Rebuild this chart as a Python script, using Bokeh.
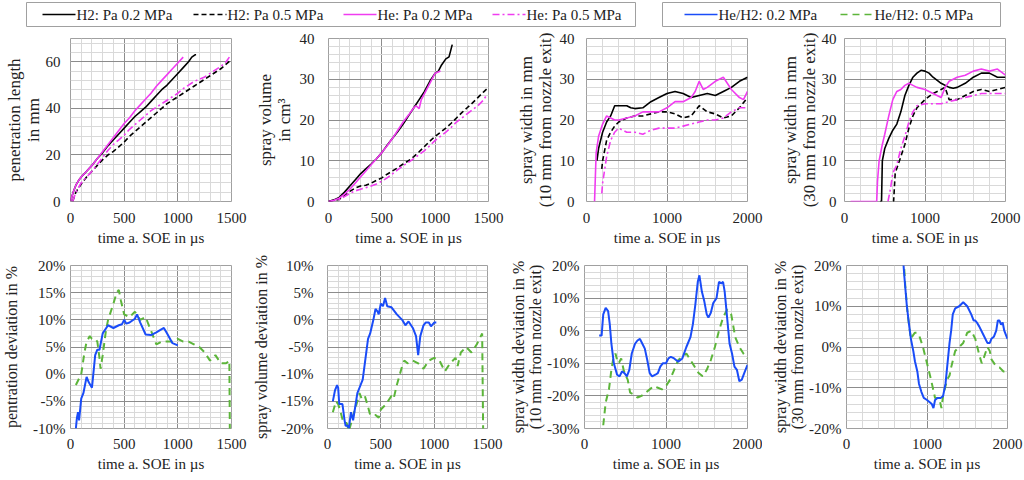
from bokeh.plotting import figure
from bokeh.layouts import column, row
from bokeh.models import Range1d, SingleIntervalTicker, PrintfTickFormatter
from bokeh.core.properties import value
from bokeh.embed import file_html
from bokeh.resources import INLINE

FONT = "'Liberation Serif', 'Times New Roman', serif"

# ---------------- data (time in µs, value) ----------------
# penetration length in mm
pen_h2_02 = [(0,0),(25,4),(50,7),(75,9),(100,10.5),(150,13),(200,15.5),(250,18.5),(300,21),(350,24),(400,26.5),(450,29),(500,31.5),(550,34),(600,36.5),(650,38.5),(700,40.5),(750,43),(800,45.5),(850,48),(900,50),(950,52.5),(1000,55),(1050,57.5),(1100,60),(1130,62),(1160,63),(1170,63)]
pen_h2_05 = [(20,0),(50,4),(100,7.5),(150,10.5),(200,13),(250,15.5),(300,18),(350,20),(400,21.5),(450,23.5),(500,25.5),(550,28),(600,30),(650,32),(700,34),(750,36),(800,38),(850,40),(900,42),(950,43.5),(1000,45),(1050,46.5),(1100,48),(1150,49.5),(1200,51),(1250,52.5),(1300,54),(1350,55.5),(1400,57),(1450,59),(1500,61)]
pen_he_02 = [(0,0),(25,4),(50,7),(75,9),(100,10.5),(150,13),(200,15.5),(250,18.5),(300,21.5),(350,24.5),(400,27.5),(450,30.5),(500,33.5),(550,36),(600,39),(650,41.5),(700,44),(750,46.5),(800,49.5),(850,52),(900,54.5),(950,57),(1000,59.5),(1050,62)]
pen_he_05 = [(20,0),(50,4),(100,8),(150,10.5),(200,13),(250,16),(300,19),(350,22),(400,24.5),(450,26.5),(500,28.5),(550,31),(600,33),(650,35),(700,37),(750,39),(800,40.5),(850,42),(900,43.5),(950,45),(1000,46.5),(1050,48.5),(1100,50),(1150,51.5),(1200,52.5),(1250,53.5),(1300,55),(1350,56.5),(1400,58),(1450,60),(1480,62)]

# spray volume in cm3
vol_h2_02 = [(0,0),(50,0.4),(100,1),(150,2.3),(200,3.8),(250,5.3),(300,6.8),(350,8),(400,9.2),(450,10.5),(500,12),(550,13.8),(600,15.5),(650,17.2),(700,19),(750,21),(800,23),(850,25),(900,27),(950,29.5),(1000,31.5),(1030,32),(1060,33.5),(1100,35),(1130,35.5),(1160,38.5)]
vol_h2_05 = [(0,0),(100,0.5),(150,1.5),(200,2.5),(250,3.3),(300,3.8),(350,4),(400,4.5),(450,5.2),(500,5.8),(550,6.7),(600,7.5),(650,8.3),(700,9.2),(750,10),(800,11),(850,12.2),(900,13.5),(950,14.8),(1000,16),(1050,17),(1100,18),(1150,19.2),(1200,20.5),(1250,21.8),(1300,23),(1350,24.2),(1400,25.5),(1450,26.8),(1500,28)]
vol_he_02 = [(0,0),(50,0.3),(100,0.8),(150,1.8),(200,3),(250,4.5),(300,6),(350,7.5),(400,9),(450,10.5),(500,12),(550,13.7),(600,15.5),(650,17.5),(700,19.5),(750,21.2),(800,23),(820,23.5),(850,22.8),(870,25),(900,26.5),(950,29),(1000,31.5),(1050,32)]
vol_he_05 = [(0,0),(100,0.5),(150,1.2),(200,2),(250,2.6),(300,3),(350,3.4),(400,3.8),(450,4.3),(500,5),(550,5.8),(600,6.8),(650,7.8),(700,8.8),(750,9.6),(800,10.5),(850,11.5),(900,12.5),(950,13.7),(1000,15),(1050,16),(1100,17),(1150,18.2),(1200,19.5),(1250,20.5),(1300,21.5),(1350,22.5),(1400,23.5),(1450,24.8),(1480,26)]

# spray width in mm, 10 mm from nozzle exit
w10_h2_02 = [(130,10),(150,13),(200,17),(250,19.5),(300,21),(350,23.5),(400,23.5),(450,23.5),(500,23.5),(550,23),(600,22.8),(700,23),(800,24.5),(900,25.5),(1000,26.5),(1100,27),(1200,26.5),(1300,25.5),(1400,26),(1500,26.5),(1600,26),(1700,27),(1800,28),(1900,29.5),(2000,30.5)]
w10_h2_05 = [(190,8),(200,10),(250,15),(300,17),(350,18.5),(400,19.5),(500,20.5),(600,21),(700,21),(800,21.5),(900,22),(1000,22),(1100,21.5),(1200,20.5),(1300,21),(1400,23.5),(1500,22),(1600,21.5),(1700,20.5),(1800,21),(1900,23),(2000,25.5)]
w10_he_02 = [(100,0),(110,6),(120,12),(150,16),(200,19),(250,21),(300,20.5),(350,20),(400,20),(500,20.5),(600,21),(700,22),(800,22),(900,22),(1000,23),(1100,24.5),(1200,24.5),(1300,25.5),(1350,27),(1400,29.5),(1450,27.5),(1500,28),(1600,29.5),(1700,30.5),(1800,27.5),(1900,25.5),(1950,25),(2000,27)]
w10_he_05 = [(190,2),(200,4.5),(250,11),(300,15),(350,17),(400,18),(450,17.5),(500,17),(600,17),(700,16.5),(800,17.5),(900,18),(1000,18),(1100,18),(1200,18.5),(1300,19),(1400,19.5),(1500,20),(1600,20),(1700,20.5),(1800,22),(1900,23),(2000,23)]

# spray width in mm, 30 mm from nozzle exit
w30_h2_02 = [(440,0),(460,0),(470,10),(500,13),(550,15.5),(600,17.5),(650,19),(700,22),(750,26),(800,28.5),(850,30.5),(900,31.5),(950,32.2),(1000,32),(1050,31.5),(1100,30.5),(1200,29),(1300,28),(1350,27.8),(1400,28),(1500,29),(1600,30.5),(1700,31.5),(1800,31.5),(1900,30.5),(2000,30.5)]
w30_h2_05 = [(600,0),(610,0),(630,7),(700,11),(750,14),(800,18),(850,21),(900,23),(1000,25),(1100,26.5),(1200,27.5),(1250,28),(1300,25),(1400,25),(1500,26),(1600,27),(1700,27.5),(1800,27),(1900,27.5),(2000,28)]
w30_he_02 = [(75,0),(400,0),(410,5),(430,10),(470,14),(500,16.5),(550,21),(600,25),(650,27),(700,27.5),(750,28.5),(800,29),(850,28.5),(900,28),(1000,27.5),(1100,26.5),(1200,25.5),(1250,28),(1300,29.5),(1400,30.5),(1500,31),(1600,32),(1700,32.5),(1800,32),(1900,32.5),(2000,31)]
w30_he_05 = [(540,0),(570,3),(600,7),(650,9),(700,13),(750,16),(800,19.5),(850,22),(900,23.5),(1000,24),(1100,24),(1200,24),(1300,24.5),(1400,25),(1500,25.5),(1600,26),(1700,26.5),(1800,26.5),(1900,26.5),(2000,26.5)]

# deviations He/H2 in %
pen_dev_02 = [(50,-10),(60,-8),(70,-7),(80,-8.5),(100,-4.5),(120,-3.5),(150,-0.5),(170,-1.5),(200,-2.5),(230,3.5),(250,4.5),(270,4.5),(300,7.5),(350,9),(400,8.5),(450,9),(480,9.2),(500,10),(520,9.3),(550,9.5),(600,10.2),(620,11),(650,9.5),(700,7.3),(750,7.2),(800,7.7),(850,8.3),(870,8.5),(900,7.5),(950,5.7),(1000,5.3)]
pen_dev_05 = [(50,-2),(100,0),(130,4),(150,6),(180,7),(200,6.5),(230,6.5),(250,6),(270,3),(280,1),(300,3.5),(330,8),(350,10),(400,13),(430,15),(450,15.5),(470,13.5),(500,11),(550,10.5),(600,11.5),(650,10),(700,10.5),(750,8),(800,5.5),(850,6),(900,6),(950,6),(1000,6.5),(1050,6),(1100,6),(1150,5.5),(1200,5),(1250,4),(1300,2.5),(1350,3.5),(1400,2),(1450,2),(1480,2.5),(1485,-12)]
vol_dev_02 = [(50,-15),(70,-13),(90,-12),(100,-12.5),(110,-15.5),(140,-15.5),(160,-18.5),(170,-19.5),(190,-19.5),(200,-20),(220,-17),(240,-18.5),(260,-16),(280,-13.5),(300,-12.5),(330,-11),(350,-8),(380,-3.5),(400,-2.5),(430,0),(450,2),(470,1.5),(480,1),(500,3),(520,2.5),(540,4),(560,2.5),(600,2.3),(650,1),(700,0),(730,-1),(760,-0.3),(800,-1.5),(830,-3),(850,-6.5),(870,-3),(900,-1),(920,-0.5),(950,-0.5),(970,-1.2),(1000,-0.5),(1020,-0.5)]
vol_dev_05 = [(50,-17),(80,-15),(100,-15.5),(130,-17.5),(150,-19),(180,-19),(200,-20.5),(250,-17),(280,-15),(300,-13.5),(320,-14.5),(350,-14),(380,-16),(400,-17.5),(450,-17.5),(480,-18),(500,-16.5),(550,-15.5),(600,-14),(620,-14.5),(650,-12),(700,-8.5),(720,-7.5),(750,-8),(800,-7.5),(850,-8),(900,-9),(950,-7.5),(1000,-7),(1050,-7.5),(1100,-9.5),(1150,-8),(1200,-7),(1220,-8.5),(1250,-6),(1300,-5),(1350,-6),(1400,-4.5),(1450,-2.5),(1460,-22)]
w10_dev_02 = [(180,-1.5),(210,-1.5),(230,5),(260,7),(290,6),(310,2),(330,-4),(360,-10),(400,-13.5),(430,-14),(460,-12.5),(490,-13),(520,-14),(550,-12),(580,-7),(620,-4),(650,-3),(680,-2.5),(710,-4),(740,-5.5),(770,-9),(800,-13),(830,-14),(870,-13.5),(900,-13),(930,-11),(960,-10),(1000,-10),(1030,-8.5),(1060,-8),(1100,-8.5),(1150,-9.5),(1200,-8.5),(1250,-5),(1300,-2),(1330,2),(1360,8),(1390,15),(1410,17),(1440,12),(1470,9),(1500,5),(1520,4),(1550,5.5),(1580,8.5),(1620,10),(1650,15),(1680,14.5),(1700,15),(1720,12),(1750,4),(1780,-4),(1810,-7),(1840,-11),(1870,-12),(1900,-15.5),(1930,-15),(1960,-13),(2000,-10.5)]
w10_dev_05 = [(230,-29),(260,-22),(300,-18),(330,-12),(350,-9),(380,-7),(400,-9),(420,-10),(450,-8.5),(480,-12),(500,-13.5),(530,-15),(560,-19),(600,-19.5),(650,-20.5),(700,-20),(750,-19),(800,-18),(850,-17),(900,-17.5),(950,-18),(1000,-17),(1050,-15),(1100,-12),(1150,-9),(1200,-8),(1250,-7),(1300,-9),(1350,-11),(1400,-13),(1450,-14),(1500,-12),(1550,-9),(1600,-5),(1650,0),(1700,4),(1750,6.5),(1800,5),(1850,-2),(1900,-5),(1950,-7),(2000,-8.5)]
w30_dev_02 = [(690,25),(720,17),(750,10),(780,5),(800,2),(830,-1),(850,-3.5),(880,-6),(900,-9),(930,-11),(960,-12.5),(1000,-13),(1030,-13.5),(1060,-14),(1080,-15),(1100,-13),(1130,-12.5),(1170,-12.5),(1200,-12),(1230,-9),(1250,-5),(1280,1),(1300,4),(1320,8),(1350,9.5),(1400,10),(1450,11),(1500,10),(1550,8),(1580,6.5),(1600,6.5),(1620,6),(1650,5),(1700,3),(1750,1),(1780,1),(1800,2),(1830,2.5),(1860,4),(1880,6.5),(1900,6.5),(1920,5.5),(1940,6),(1960,4),(1980,3),(2000,2)]
w30_dev_05 = [(700,25),(730,15),(760,8),(800,2),(830,3),(850,3.5),(870,3.5),(900,3),(950,0),(1000,-4),(1050,-8),(1100,-12.5),(1150,-12.5),(1180,-15),(1200,-12),(1250,-8),(1280,-7),(1300,-5),(1350,-1),(1400,0),(1450,1),(1500,3.5),(1550,4),(1600,2),(1650,-2),(1680,-4),(1700,-3),(1750,0),(1780,-1),(1800,-3),(1850,-4.5),(1900,-5),(1950,-6),(2000,-6)]

legend_labels_1 = ["H2: Pa 0.2 MPa", "H2: Pa 0.5 MPa", "He: Pa 0.2 MPa", "He: Pa 0.5 MPa"]
legend_labels_2 = ["He/H2: 0.2 MPa", "He/H2: 0.5 MPa"]
x_label = "time a. SOE in µs"

# ---------------- styles ----------------
BLACK = "#000000"
MAGENTA = "#f03cf0"
BLUE = "#1a4cf8"
GREEN = "#5cb53a"
STY = {
    "h2_02": dict(line_color=BLACK, line_dash="solid", line_width=1.6),
    "h2_05": dict(line_color=BLACK, line_dash="5 3", line_width=1.6),
    "he_02": dict(line_color=MAGENTA, line_dash="solid", line_width=1.6),
    "he_05": dict(line_color=MAGENTA, line_dash="7 3 2 3", line_width=1.6),
    "dev_02": dict(line_color=BLUE, line_dash="solid", line_width=2),
    "dev_05": dict(line_color=GREEN, line_dash="7 5", line_width=2),
}


def make_fig(width, height, left, right, top, bottom, xmax, xint, yr, yint, ylabel,
             pct=False, ystand=14, ylstand=3, ylsize="17px", xstand=11, xlstand=4):
    p = figure(width=width, height=height, x_range=Range1d(0, xmax), y_range=Range1d(*yr),
               toolbar_location=None, output_backend="svg",
               min_border_left=left, min_border_right=right,
               min_border_top=top, min_border_bottom=bottom)
    xt = SingleIntervalTicker(interval=xint, num_minor_ticks=5)
    yt = SingleIntervalTicker(interval=yint, num_minor_ticks=5)
    p.xaxis.ticker = xt
    p.yaxis.ticker = yt
    p.xgrid.ticker = xt
    p.ygrid.ticker = yt
    if pct:
        p.yaxis.formatter = PrintfTickFormatter(format="%d%%")
    for g in (p.xgrid, p.ygrid):
        g.grid_line_color = "#8c8c8c"
        g.grid_line_width = 1
        g.minor_grid_line_color = "#d9d9d9"
        g.minor_grid_line_width = 1
    p.outline_line_color = "#a0a0a0"
    p.axis.axis_line_color = None
    p.axis.major_tick_line_color = None
    p.axis.minor_tick_line_color = None
    p.axis.major_tick_out = 0
    p.axis.major_tick_in = 0
    p.axis.minor_tick_out = 0
    p.axis.minor_tick_in = 0
    p.axis.major_label_text_font = FONT
    p.axis.major_label_text_font_size = "15px"
    p.axis.major_label_text_color = "#222222"
    p.axis.axis_label_text_font = FONT
    p.axis.axis_label_text_font_style = "normal"
    p.axis.axis_label_text_color = "#222222"
    p.xaxis.axis_label = x_label
    p.xaxis.axis_label_text_font_size = "15px"
    p.xaxis.major_label_standoff = xstand
    p.xaxis.axis_label_standoff = xlstand
    p.yaxis.axis_label = ylabel
    p.yaxis.axis_label_text_font_size = ylsize
    p.yaxis.axis_label_text_line_height = 1.0
    p.yaxis.major_label_standoff = ystand
    p.yaxis.axis_label_standoff = ylstand
    return p


def draw(p, pts, key):
    xs = [a for a, b in pts]
    ys = [b for a, b in pts]
    p.line(xs, ys, **STY[key])


TOP_H, BOT_H = 225, 227

f1 = make_fig(250, TOP_H, 70, 19, 10, 52, 1500, 500, (0, 70), 20, "penetration length\nin mm",
              ystand=10, ylstand=0)
f2 = make_fig(258, TOP_H, 78, 20, 10, 52, 1500, 500, (0, 40), 10, "spray volume\nin cm³")
f3 = make_fig(256, TOP_H, 78, 17, 10, 52, 2000, 1000, (0, 40), 10, "spray width in mm\n(10 mm from nozzle exit)",
              ystand=12, ylstand=2)
f4 = make_fig(260, TOP_H, 80, 19, 10, 52, 2000, 1000, (0, 40), 10, "spray width in mm\n(30 mm from nozzle exit)",
              ystand=8, ylstand=0)

for pts, key in ((pen_h2_05, "h2_05"), (pen_he_05, "he_05"), (pen_h2_02, "h2_02"), (pen_he_02, "he_02")):
    draw(f1, pts, key)
for pts, key in ((vol_h2_05, "h2_05"), (vol_he_05, "he_05"), (vol_h2_02, "h2_02"), (vol_he_02, "he_02")):
    draw(f2, pts, key)
for pts, key in ((w10_h2_05, "h2_05"), (w10_he_05, "he_05"), (w10_h2_02, "h2_02"), (w10_he_02, "he_02")):
    draw(f3, pts, key)
for pts, key in ((w30_h2_05, "h2_05"), (w30_he_05, "he_05"), (w30_h2_02, "h2_02"), (w30_he_02, "he_02")):
    draw(f4, pts, key)

f5 = make_fig(250, BOT_H, 70, 19, 12, 52, 1500, 500, (-10, 20), 5, "pentration deviation in %",
              pct=True, ystand=5, ylstand=10, ylsize="16px", xstand=10)
f6 = make_fig(253, BOT_H, 77, 16, 12, 52, 1500, 500, (-20, 10), 5, "spray volume deviation in %",
              pct=True, ystand=14, ylstand=8, ylsize="16px", xstand=10)
f7 = make_fig(259, BOT_H, 81, 15, 12, 52, 2000, 1000, (-30, 20), 10,
              "spray width deviation in %\n(10 mm from nozzle exit)", pct=True, ystand=5, ylstand=0,
              ylsize="16px", xstand=10)
f8 = make_fig(262, BOT_H, 84, 17, 12, 52, 2000, 1000, (-20, 20), 10,
              "spray width deviation in %\n(30 mm from nozzle exit)", pct=True, ystand=5, ylstand=0,
              ylsize="16px", xstand=10)

for p, a, b in ((f5, pen_dev_02, pen_dev_05), (f6, vol_dev_02, vol_dev_05),
                (f7, w10_dev_02, w10_dev_05), (f8, w30_dev_02, w30_dev_05)):
    draw(p, b, "dev_05")
    draw(p, a, "dev_02")

# ---------------- legend strip ----------------
leg = figure(width=1024, height=28, x_range=Range1d(0, 1024), y_range=Range1d(0, 28),
             toolbar_location=None, output_backend="svg", min_border=0,
             x_axis_location=None, y_axis_location=None)
leg.grid.visible = False
leg.outline_line_color = None
leg.quad(left=[26, 662], right=[635, 1000], bottom=[2, 2], top=[26, 26],
         fill_color=None, line_color="#a0a0a0", line_width=1)
keys = ["h2_02", "h2_05", "he_02", "he_05", "dev_02", "dev_05"]
line_x0 = [42, 193, 343, 492, 684, 840]
for k, x0 in zip(keys, line_x0):
    st = dict(STY[k])
    st["line_width"] = 1.6
    leg.segment(x0=[x0], y0=[14], x1=[x0 + 33], y1=[14], **st)
leg.text(x=[x0 + 34 for x0 in line_x0], y=[14] * 6, text=legend_labels_1 + legend_labels_2,
         text_font=value(FONT), text_font_size="15px", text_baseline="middle",
         text_align="left", text_color="#222222")

layout = column(leg, row(f1, f2, f3, f4), row(f5, f6, f7, f8))

open("out.html", "w").write(file_html(layout, INLINE))
